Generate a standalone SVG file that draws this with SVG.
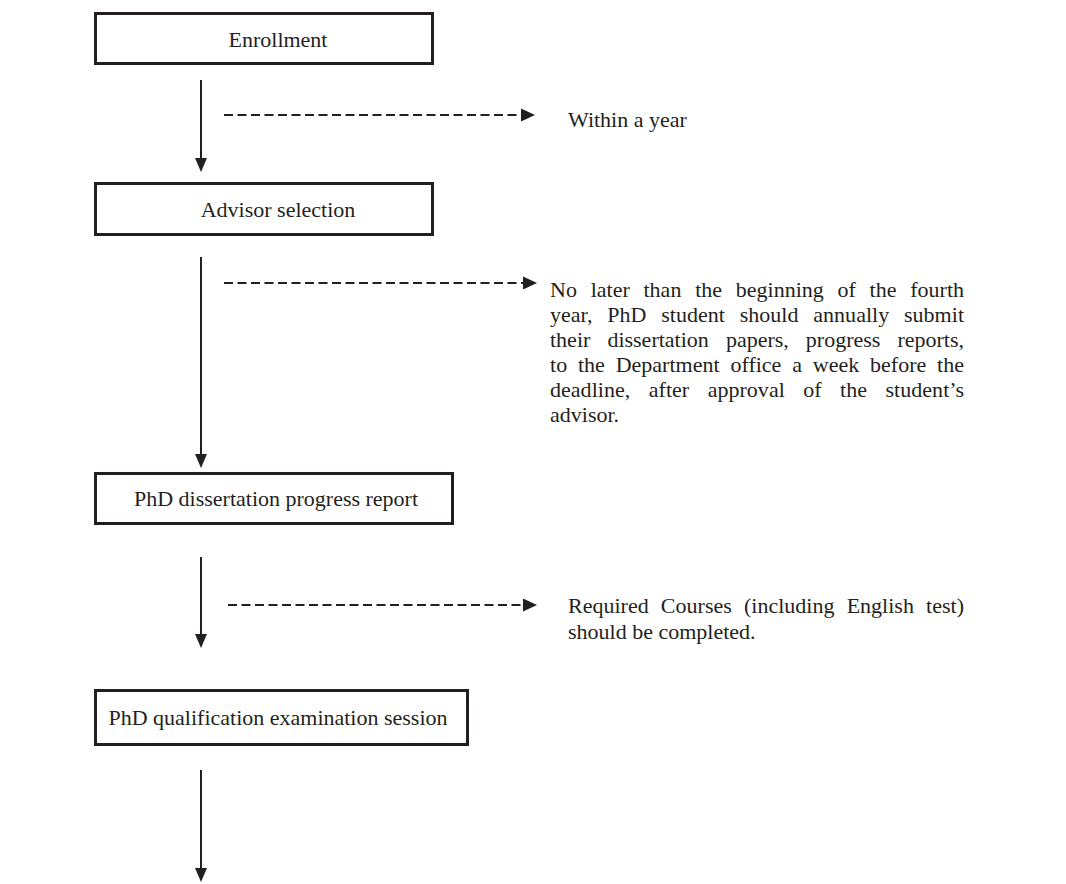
<svg xmlns="http://www.w3.org/2000/svg" width="1066" height="884" viewBox="0 0 1066 884">
<style>
.box{fill:#fff;stroke:#231f20;stroke-width:3}
.lbl{font-family:"Liberation Serif","Times New Roman",serif;font-size:22px;fill:#231f20;text-anchor:middle}
.note{font-family:"Liberation Serif","Times New Roman",serif;font-size:22px;fill:#231f20}
.flow{stroke:#231f20;stroke-width:2;fill:none}
.dash{stroke:#231f20;stroke-width:2;fill:none;stroke-dasharray:9 4.5}
.head{fill:#231f20}
</style>
<g id="enrollment">
<rect class="box" x="95.5" y="13.5" width="337" height="50"/>
<text class="lbl" x="278" y="46.5">Enrollment</text>
</g>
<g id="advisor">
<rect class="box" x="95.5" y="183.5" width="337" height="51"/>
<text class="lbl" x="278" y="217">Advisor selection</text>
</g>
<g id="progress">
<rect class="box" x="95.5" y="473.5" width="357" height="50"/>
<text class="lbl" x="276" y="506">PhD dissertation progress report</text>
</g>
<g id="qualification">
<rect class="box" x="95.5" y="690.5" width="372" height="54"/>
<text class="lbl" x="278" y="725">PhD qualification examination session</text>
</g>
<g id="connectors">
<line class="flow" x1="201" y1="80" x2="201" y2="160"/>
<polygon class="head" points="195,158 207,158 201,172"/>
<line class="flow" x1="201" y1="257" x2="201" y2="456"/>
<polygon class="head" points="195,454 207,454 201,468"/>
<line class="flow" x1="201" y1="557" x2="201" y2="636"/>
<polygon class="head" points="195,634 207,634 201,648"/>
<line class="flow" x1="201" y1="770" x2="201" y2="870"/>
<polygon class="head" points="195,868 207,868 201,882"/>
<line class="dash" x1="224" y1="115" x2="522" y2="115"/>
<polygon class="head" points="521,108.5 521,121.5 535,115"/>
<line class="dash" x1="224" y1="283" x2="524" y2="283"/>
<polygon class="head" points="523,276.5 523,289.5 537,283"/>
<line class="dash" x1="228" y1="605" x2="524" y2="605"/>
<polygon class="head" points="523,598.5 523,611.5 537,605"/>
</g>
<g id="note1">
<text class="note" x="568" y="127">Within a year</text>
</g>
<g id="note2">
<text class="note" x="550" y="297" word-spacing="8.26" textLength="414" lengthAdjust="spacing">No later than the beginning of the fourth</text>
<text class="note" x="550" y="322" word-spacing="9.22" textLength="414" lengthAdjust="spacing">year, PhD student should annually submit</text>
<text class="note" x="550" y="347" word-spacing="11.55" textLength="414" lengthAdjust="spacing">their dissertation papers, progress reports,</text>
<text class="note" x="550" y="372" word-spacing="5.3" textLength="414" lengthAdjust="spacing">to the Department office a week before the</text>
<text class="note" x="550" y="397" word-spacing="12.9" textLength="414" lengthAdjust="spacing">deadline, after approval of the student’s</text>
<text class="note" x="550" y="422">advisor.</text>
</g>
<g id="note3">
<text class="note" x="568" y="613" word-spacing="6.7" textLength="396" lengthAdjust="spacing">Required Courses (including English test)</text>
<text class="note" x="568" y="639">should be completed.</text>
</g>
</svg>
